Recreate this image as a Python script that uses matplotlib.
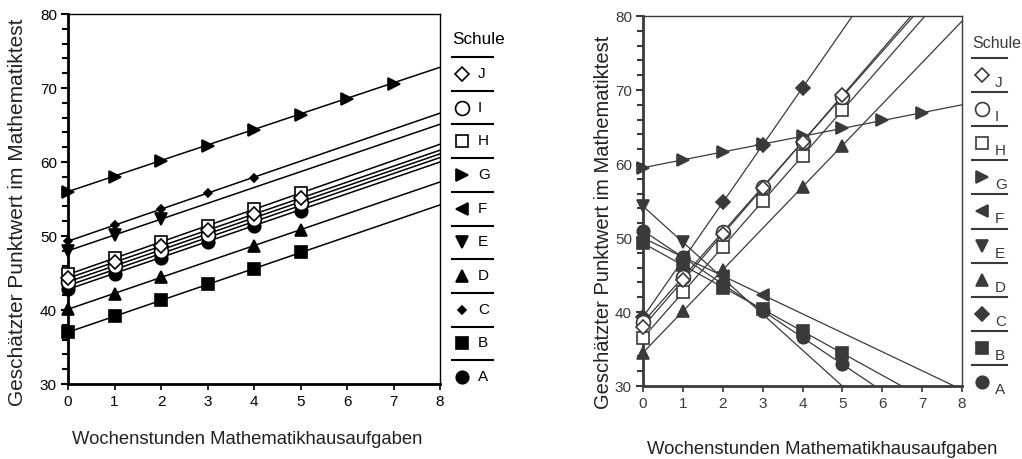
import matplotlib
matplotlib.use("Agg")
import matplotlib.pyplot as plt
from matplotlib.ticker import MultipleLocator

plt.rcParams['font.family'] = ['Liberation Sans', 'DejaVu Sans']

# schools in legend order (top to bottom)
schools = ['J', 'I', 'H', 'G', 'F', 'E', 'D', 'C', 'B', 'A']

# left panel: marker positions, marker values, line value at x=0 and x=8
left_x = {
    'J': [0, 1, 2, 3, 4, 5], 'I': [0, 1, 2, 3, 4, 5], 'H': [0, 1, 2, 3, 4, 5],
    'G': [0, 1, 2, 3, 4, 5, 6, 7], 'F': [0, 1, 2, 3], 'E': [0, 1, 2],
    'D': [0, 1, 2, 4, 5], 'C': [0, 1, 2, 3, 4], 'B': [0, 1, 2, 3, 4, 5],
    'A': [0, 1, 2, 3, 4, 5],
}
left_y = {
    'J': [44.3, 46.5, 48.6, 50.8, 53.0, 55.1],
    'I': [43.8, 45.9, 48.0, 50.2, 52.3, 54.5],
    'H': [44.8, 47.0, 49.2, 51.4, 53.6, 55.8],
    'G': [56.0, 58.0, 60.1, 62.2, 64.3, 66.4, 68.5, 70.6],
    'F': [43.3, 45.5, 47.6, 49.8],
    'E': [48.0, 50.2, 52.3],
    'D': [40.1, 42.2, 44.4, 48.7, 50.8],
    'C': [49.3, 51.5, 53.6, 55.8, 57.9],
    'B': [37.0, 39.2, 41.3, 43.5, 45.6, 47.8],
    'A': [42.8, 44.9, 47.0, 49.2, 51.3, 53.4],
}
left_line = {
    'J': [44.3, 61.6], 'I': [43.8, 61.1], 'H': [44.8, 62.4], 'G': [56.0, 72.8],
    'F': [43.3, 60.6], 'E': [48.0, 65.1], 'D': [40.1, 57.3], 'C': [49.3, 66.6],
    'B': [37.0, 54.2], 'A': [42.8, 60.0],
}

# right panel
right_x = {
    'J': [0, 1, 2, 3, 4, 5], 'I': [0, 1, 2, 3, 4, 5], 'H': [0, 1, 2, 3, 4, 5],
    'G': [0, 1, 2, 3, 4, 5, 6, 7], 'F': [0, 1, 2, 3], 'E': [0, 1, 2],
    'D': [0, 1, 2, 4, 5], 'C': [0, 1, 2, 3, 4], 'B': [0, 1, 2, 3, 4, 5],
    'A': [0, 1, 2, 3, 4, 5],
}
right_y = {
    'J': [38.0, 44.3, 50.5, 56.8, 63.0, 69.3],
    'I': [38.6, 44.7, 50.8, 56.9, 63.0, 69.1],
    'H': [36.5, 42.7, 48.8, 55.0, 61.1, 67.3],
    'G': [59.5, 60.6, 61.6, 62.7, 63.8, 64.8, 65.9, 66.9],
    'F': [50.0, 47.4, 44.9, 42.3],
    'E': [54.3, 49.4, 44.6],
    'D': [34.5, 40.1, 45.7, 56.9, 62.5],
    'C': [39.3, 47.1, 54.8, 62.6, 70.3],
    'B': [49.3, 46.3, 43.3, 40.4, 37.4, 34.4],
    'A': [51.0, 47.4, 43.8, 40.2, 36.6, 33.0],
}
right_line = {
    'J': [38.0, 88.0], 'I': [38.6, 87.4], 'H': [36.5, 85.7], 'G': [59.5, 68.0],
    'F': [50.0, 29.5], 'E': [54.3, 15.4], 'D': [34.5, 79.3], 'C': [39.3, 101.3],
    'B': [49.3, 25.5], 'A': [51.0, 22.1],
}

xlabel = 'Wochenstunden Mathematikhausaufgaben'
ylabel = 'Geschätzter Punktwert im Mathematiktest'

# marker style per school: (marker, filled, size)
styles = {
    'J': ('D', False, 7), 'I': ('o', False, 10), 'H': ('s', False, 8),
    'G': ('>', True, 8), 'F': ('<', True, 8), 'E': ('v', True, 8),
    'D': ('^', True, 8), 'C': ('D', True, 4), 'B': ('s', True, 8),
    'A': ('o', True, 9),
}

W, H = 1022, 459
fig = plt.figure(figsize=(W / 100, H / 100), dpi=100)


def px_rect(x0, y0, x1, y1):
    return [x0 / W, 1 - y1 / H, (x1 - x0) / W, (y1 - y0) / H]


def panel(box, xs, ys, lines, col, lw, csize, ylab_x, ylab_y, ylab_fs, xlab_x, xlab_y):
    ax = fig.add_axes(px_rect(*box))
    draw_order = ['A', 'B', 'D', 'E', 'F', 'C', 'G', 'H', 'I', 'J']
    for s in draw_order:
        m, filled, ms = styles[s]
        if s == 'C':
            ms = csize
        ax.plot([0, 8], lines[s], color=col, lw=lw, zorder=2)
        ax.plot(xs[s], ys[s], ls='none', marker=m, ms=ms, clip_on=False,
                mfc=col if filled else 'white', mec=col, mew=1.2, zorder=3)
    ax.set_xlim(0, 8)
    ax.set_ylim(30, 80)
    ax.xaxis.set_major_locator(MultipleLocator(1))
    ax.yaxis.set_major_locator(MultipleLocator(10))
    ax.yaxis.set_minor_locator(MultipleLocator(2))
    ax.tick_params(axis='both', which='both', direction='out', color=col,
                   labelcolor=col, labelsize=11)
    ax.tick_params(axis='y', which='major', length=5, width=1.5, pad=3)
    ax.tick_params(axis='y', which='minor', length=4, width=1.5)
    ax.tick_params(axis='x', which='major', length=4, width=1.2, pad=4)
    for sp in ax.spines.values():
        sp.set_color(col)
        sp.set_linewidth(1.0)
    ax.spines['left'].set_linewidth(2.0)
    ax.spines['bottom'].set_linewidth(2.0)
    fig.text(ylab_x / W, 1 - ylab_y / H, ylabel, rotation=90, ha='center',
             va='center', fontsize=ylab_fs, color='#222222')
    fig.text(xlab_x / W, 1 - xlab_y / H, xlabel, ha='center', va='center',
             fontsize=13.3, color='#222222')
    return ax


def legend(x0, x1, title_y, title_fs, sep_y0, step, mark_dx, lab_dx, lab_dy, col, csize):
    lg = fig.add_axes([0, 0, 1, 1])
    lg.set_xlim(0, W)
    lg.set_ylim(H, 0)
    lg.axis('off')
    lg.text(x0, title_y, 'Schule', ha='left', va='center', fontsize=title_fs, color=col)
    for i, s in enumerate(schools):
        y = sep_y0 + step * i
        lg.plot([x0, x1], [y, y], color=col, lw=1.5)
        m, filled, ms = styles[s]
        if s == 'C':
            ms = csize
        cy = y + step / 2
        lg.plot([x0 + mark_dx], [cy], ls='none', marker=m, ms=ms,
                mfc=col if filled else 'white', mec=col, mew=1.2)
        lg.text(x0 + lab_dx, cy + lab_dy, s, ha='left', va='center',
                fontsize=11, color=col)


panel((68, 14, 440, 384), left_x, left_y, left_line, 'black', 1.1, 4,
      18, 212, 15, 247, 440)
legend(452, 493, 40, 12.3, 57, 33.7, 10, 26, 0, 'black', 4)

panel((643, 16, 962, 386), right_x, right_y, right_line, '#3a3a3a', 0.9, 7,
      603, 222, 14.5, 822, 450)
legend(972, 1007, 43, 11.5, 58, 34.1, 10, 23, 8, '#3a3a3a', 7)

fig.savefig('out.png', dpi=100)
